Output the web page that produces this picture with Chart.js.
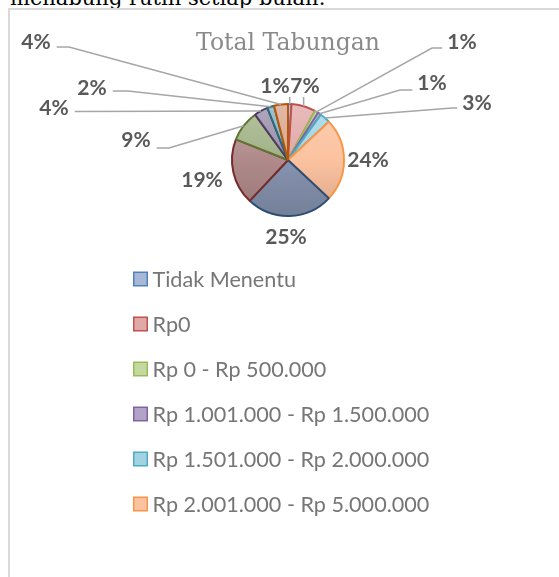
<!DOCTYPE html>
<html>
<head>
<meta charset="utf-8">
<title>Total Tabungan</title>
<script src="https://cdn.jsdelivr.net/npm/chart.js@4.4.1/dist/chart.umd.min.js"></script>
<style>
    html, body { margin: 0; padding: 0; background: #ffffff; }
    body { width: 559px; height: 577px; position: relative; overflow: hidden; }
    #caption {
        position: absolute; left: 10px; top: -15px;
        font: 21px "DejaVu Serif", serif; line-height: 26px;
        color: #000000; white-space: nowrap;
    }
    #frame {
        position: absolute; left: 8px; top: 8px;
        width: 620px; height: 620px;
        border: 2px solid #d9d9d9;
    }
    #chart { position: absolute; left: 0; top: 0; }
</style>
</head>
<body>
<div id="caption">menabung rutin setiap bulan.</div>
<div id="frame"></div>
<canvas id="chart" width="559" height="577"></canvas>

<script>
/**
 * Total Tabungan - pie chart
 */

// Categories (legend in the source only shows the first six)
const categories = [
    'Tidak Menentu',
    'Rp0',
    'Rp 0 - Rp 500.000',
    'Rp 1.001.000 - Rp 1.500.000',
    'Rp 1.501.000 - Rp 2.000.000',
    'Rp 2.001.000 - Rp 5.000.000',
    'Kategori 7',
    'Kategori 8',
    'Kategori 9',
    'Kategori 10',
    'Kategori 11',
    'Kategori 12'
];

// Share of respondents, in percent
const percentages = [1, 7, 1, 1, 3, 24, 25, 19, 9, 4, 2, 4];

// Slice colors (Office palette, then its darker variants)
const SLICE_FILLS = [
    '#a7b8d6', '#e0a9a8', '#c5d8a0', '#b3a3c7', '#a3d3e3', '#fbc29f',
    '#8794b0', '#b08a8a', '#a1b286', '#9a8fac', '#86b0bf', '#d9a58d'
];
const SLICE_BORDERS = [
    '#4f81bd', '#c0504d', '#9bbb59', '#8064a2', '#4bacc6', '#f79646',
    '#2c4d75', '#772c2a', '#5f7530', '#4d3b62', '#276a7c', '#b65708'
];

// Where each percentage label sits (label centre, leader line row, elbow)
const LABEL_LAYOUT = [
    { x: 275, y: 86, tick: true },
    { x: 305, y: 86, tick: true },
    { x: 462, y: 42, side: 'right', lineY: 48, elbowX: 432 },
    { x: 432, y: 83, side: 'right', lineY: 90, elbowX: 400 },
    { x: 477, y: 103, side: 'right', lineY: 108, elbowX: 452 },
    { x: 368, y: 160 },
    { x: 286, y: 237 },
    { x: 202, y: 180 },
    { x: 136, y: 140, side: 'left', lineY: 148, elbowX: 169 },
    { x: 54, y: 108, side: 'left', lineY: 111.5 },
    { x: 92, y: 88, side: 'left', lineY: 91, elbowX: 128 },
    { x: 36, y: 42, side: 'left', lineY: 47, elbowX: 69 }
];

/**
 * Mix a hex color towards another hex color
 */
function mixColor(hex, target, amount) {
    const a = parseInt(hex.slice(1), 16);
    const b = parseInt(target.slice(1), 16);
    const ch = (v, s) => (v >> s) & 255;
    const out = [16, 8, 0].map(s => Math.round(ch(a, s) + (ch(b, s) - ch(a, s)) * amount));
    return `rgb(${out.join(',')})`;
}

/**
 * Vertical shading across the whole pie, like the Office gradient style
 */
function sliceFill(context) {
    const base = SLICE_FILLS[context.dataIndex];
    const area = context.chart.chartArea;
    if (!area) return base;
    const g = context.chart.ctx.createLinearGradient(0, area.top, 0, area.bottom);
    g.addColorStop(0, mixColor(base, '#ffffff', 0.22));
    g.addColorStop(0.5, base);
    g.addColorStop(1, mixColor(base, '#000000', 0.14));
    return g;
}

/**
 * Percentage labels with leader lines
 */
const pctLabels = {
    id: 'pctLabels',
    afterDatasetsDraw(chart, args, opts) {
        const ctx = chart.ctx;
        const meta = chart.getDatasetMeta(0);
        const values = chart.data.datasets[0].data;

        ctx.save();
        ctx.font = `bold ${opts.fontSize}px ${opts.family}`;
        ctx.textAlign = 'center';
        ctx.textBaseline = 'middle';
        ctx.lineWidth = 1.5;
        ctx.strokeStyle = opts.lineColor;

        meta.data.forEach((arc, i) => {
            const p = opts.layout[i];
            const text = values[i] + '%';
            const w = ctx.measureText(text).width;
            const { x, y, startAngle, endAngle, outerRadius } =
                arc.getProps(['x', 'y', 'startAngle', 'endAngle', 'outerRadius'], true);
            const mid = (startAngle + endAngle) / 2;
            const ax = x + Math.cos(mid) * outerRadius;
            const ay = y + Math.sin(mid) * outerRadius;

            if (p.side) {
                const attachX = p.side === 'right' ? p.x - w / 2 - 5 : p.x + w / 2 + 6;
                ctx.beginPath();
                ctx.moveTo(ax, ay);
                if (p.elbowX !== undefined) ctx.lineTo(p.elbowX, p.lineY);
                ctx.lineTo(attachX, p.lineY);
                ctx.stroke();
            } else if (p.tick) {
                ctx.beginPath();
                ctx.moveTo(ax, ay);
                ctx.lineTo(ax, p.y + 11);
                ctx.stroke();
            }

            ctx.fillStyle = opts.color;
            ctx.fillText(text, p.x, p.y);
        });
        ctx.restore();
    }
};

/**
 * Stacked legend (one entry per row, first six categories)
 */
const stackedLegend = {
    id: 'stackedLegend',
    afterDraw(chart, args, opts) {
        const ctx = chart.ctx;
        const ds = chart.data.datasets[0];

        ctx.save();
        ctx.font = `${opts.fontSize}px ${opts.family}`;
        ctx.textAlign = 'left';
        ctx.textBaseline = 'middle';

        chart.data.labels.slice(0, opts.maxItems).forEach((label, i) => {
            const cy = opts.top + i * opts.rowGap;
            const bx = opts.left + 0.75;
            const by = cy - opts.box / 2;
            ctx.fillStyle = opts.fills[i];
            ctx.fillRect(bx, by, opts.box, opts.box);
            ctx.lineWidth = 1.5;
            ctx.strokeStyle = ds.borderColor[i];
            ctx.strokeRect(bx, by, opts.box, opts.box);

            ctx.fillStyle = opts.color;
            ctx.fillText(label, opts.left + opts.box + 6, cy + 1);
        });
        ctx.restore();
    }
};

document.addEventListener('DOMContentLoaded', () => {
    const ctx = document.getElementById('chart').getContext('2d');

    new Chart(ctx, {
        type: 'pie',
        data: {
            labels: categories,
            datasets: [{
                data: percentages,
                backgroundColor: sliceFill,
                borderColor: SLICE_BORDERS,
                borderWidth: 2
            }]
        },
        plugins: [pctLabels, stackedLegend],
        options: {
            responsive: false,
            animation: false,
            rotation: 0,
            layout: {
                padding: { top: 30, left: 17, right: 0, bottom: 360 }
            },
            plugins: {
                legend: { display: false },
                tooltip: { enabled: false },
                title: {
                    display: true,
                    text: 'Total Tabungan',
                    color: '#8a8a8a',
                    font: { family: 'DejaVu Serif', size: 23.5, weight: 'normal', lineHeight: 1.2 },
                    padding: { top: 0, bottom: 44.8 }
                },
                pctLabels: {
                    layout: LABEL_LAYOUT,
                    family: 'Lato',
                    fontSize: 21,
                    color: '#595959',
                    lineColor: '#a6a6a6'
                },
                stackedLegend: {
                    maxItems: 6,
                    fills: SLICE_FILLS,
                    left: 133,
                    top: 279,
                    rowGap: 45,
                    box: 13.5,
                    family: 'Lato',
                    fontSize: 21.6,
                    color: '#767676'
                }
            }
        }
    });
});
</script>
</body>
</html>
